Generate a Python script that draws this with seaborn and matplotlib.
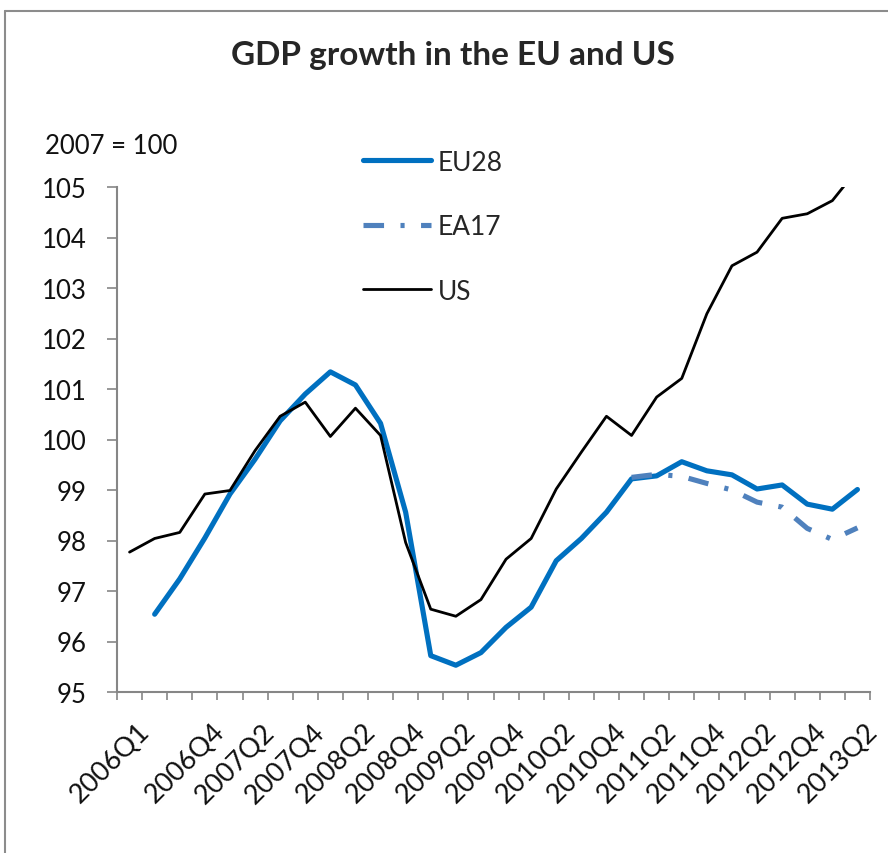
import numpy as np
import pandas as pd
import matplotlib.pyplot as plt
import matplotlib.transforms as mtransforms
import seaborn as sns

# quarters 2006Q1 .. 2013Q2
quarters = [f"{y}Q{q}" for y in range(2006, 2014) for q in range(1, 5)][:30]
eu28 = [np.nan, 96.54, 97.24, 98.05, 98.92, 99.61, 100.37, 100.90, 101.34, 101.08,
        100.32, 98.56, 95.72, 95.53, 95.78, 96.28, 96.68, 97.60, 98.04, 98.56,
        99.22, 99.28, 99.56, 99.38, 99.30, 99.02, 99.10, 98.72, 98.62, 99.01]
ea17 = [np.nan] * 20 + [99.25, 99.31, 99.27, 99.13, 99.00, 98.76, 98.66, 98.24, 98.02, 98.25]
us = [97.77, 98.04, 98.16, 98.92, 98.99, 99.78, 100.46, 100.74, 100.06, 100.62,
      100.08, 97.96, 96.64, 96.50, 96.83, 97.63, 98.04, 99.02, 99.75, 100.46,
      100.08, 100.84, 101.21, 102.49, 103.44, 103.71, 104.38, 104.47, 104.73, 105.35]
label_idx = [0, 3, 5, 7, 9, 11, 13, 15, 17, 19, 21, 23, 25, 27, 29]
yticks = list(range(95, 106))

df = pd.DataFrame({'t': range(len(quarters)), 'EU28': eu28, 'EA17': ea17, 'US': us})

sns.set_style('white')
plt.rcParams['font.family'] = ['Lato', 'DejaVu Sans']

fig = plt.figure(figsize=(8.88, 8.54), dpi=100)
ax = fig.add_axes([117/888, 1 - 693/854, (870 - 117)/888, (693 - 188)/854])

sns.lineplot(data=df, x='t', y='EU28', ax=ax, color='#0070C0', lw=3.7, label='EU28')
sns.lineplot(data=df, x='t', y='EA17', ax=ax, color='#4F81BD', lw=3.7, label='EA17',
             dashes=False)
ax.lines[-1].set_dashes([4, 3.2, 0.8, 3.2])
sns.lineplot(data=df, x='t', y='US', ax=ax, color='black', lw=2.0, label='US')

ax.set_xlim(-0.5, len(quarters) - 0.5)
ax.set_ylim(95, 105)
ax.set_xlabel('')
ax.set_ylabel('')

grey = '#868686'
for s in ['top', 'right']:
    ax.spines[s].set_visible(False)
for s in ['left', 'bottom']:
    ax.spines[s].set_color(grey)
    ax.spines[s].set_linewidth(1.5)

ax.set_yticks(yticks)
ax.tick_params(axis='y', length=7, width=1.2, color=grey, pad=15, labelsize=18.5,
               left=True, labelcolor='#111111')
ax.set_xticks(np.arange(-0.5, len(quarters)), [''] * (len(quarters) + 1))
ax.tick_params(axis='x', which='major', length=6, width=1.2, color=grey, bottom=True)
ax.set_xticks(label_idx, [quarters[i] for i in label_idx], minor=True)
ax.tick_params(axis='x', which='minor', length=0, pad=19, labelsize=19.5,
               labelcolor='#111111')
offset = mtransforms.ScaledTranslation(7/100, 0, fig.dpi_scale_trans)
for lab in ax.get_xticklabels(minor=True):
    lab.set_rotation(45)
    lab.set_ha('right')
    lab.set_rotation_mode('anchor')
    lab.set_transform(lab.get_transform() + offset)

fig.text(453/888, 1 - 55/854, 'GDP growth in the EU and US', ha='center', va='center',
         fontsize=24, fontweight='bold')
fig.text(45/888, 1 - 146/854, '2007 = 100', ha='left', va='center', fontsize=18.5,
         color='#111111')

leg = ax.legend(loc='upper left', bbox_to_anchor=(352/888, 1 - 140/854),
                bbox_transform=fig.transFigure, frameon=False, fontsize=19,
                handlelength=2.6, handletextpad=0.25, labelspacing=1.5, borderaxespad=0)

# chart frame (left and top edges visible)
fig.add_artist(plt.Line2D([5/888, 5/888], [0, 1 - 12/854], color='#8c8c8c', lw=1.5,
                          transform=fig.transFigure))
fig.add_artist(plt.Line2D([5/888, 1], [1 - 12/854, 1 - 12/854], color='#8c8c8c', lw=1.5,
                          transform=fig.transFigure))

plt.savefig('out.png', dpi=100)
